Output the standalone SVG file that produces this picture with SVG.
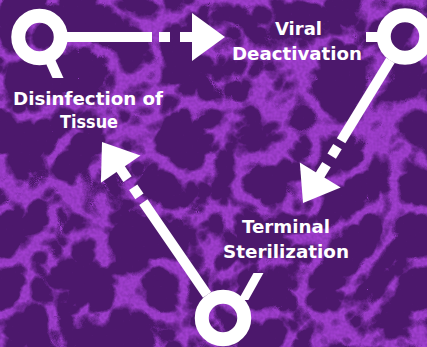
<svg xmlns="http://www.w3.org/2000/svg" width="427" height="347" viewBox="0 0 427 347">
<defs>
<style>
.ring{fill:none;stroke:#fff;stroke-width:14}
.ln{stroke:#fff;stroke-width:10;stroke-linecap:butt;fill:none}
.solid{fill:#fff}
.lbl{font-family:"DejaVu Sans","Noto Sans",sans-serif;font-weight:700;font-size:17px;fill:#fff;text-anchor:middle}
</style>
<filter id="cells" filterUnits="userSpaceOnUse" x="0" y="0" width="427" height="347" color-interpolation-filters="sRGB">
<feTurbulence type="turbulence" baseFrequency="0.019" numOctaves="3" seed="11" result="n"/>
<feColorMatrix in="n" type="matrix" values="0 0 0 0 0  0 0 0 0 0  0 0 0 0 0  -6 0 0 0 1.85" result="m"/>
<feTurbulence type="fractalNoise" baseFrequency="0.35" numOctaves="1" seed="3" result="g"/>
<feColorMatrix in="g" type="matrix" values="0 0 0 0 0  0 0 0 0 0  0 0 0 0 0  1.6 0 0 0 -0.2" result="gm"/>
<feComposite in="m" in2="gm" operator="arithmetic" k1="0" k2="1" k3="-0.3" k4="0.08" result="mm"/>
<feGaussianBlur in="mm" stdDeviation="0.7" result="mb"/>
<feFlood flood-color="#a13fd0" result="lite"/>
<feComposite in="lite" in2="mb" operator="in" result="veins"/>
<feFlood flood-color="#4c186c" result="dark"/>
<feMerge><feMergeNode in="dark"/><feMergeNode in="veins"/></feMerge>
</filter>
</defs>
<rect id="background" x="0" y="0" width="427" height="347" fill="#4c186c" filter="url(#cells)"/>

<g id="connectors">
  <g id="arrow-disinfection-viral">
    <line class="ln" x1="67" y1="37" x2="152" y2="37"/>
    <line class="ln" x1="159" y1="37" x2="170" y2="37"/>
    <line class="ln" x1="180" y1="37" x2="193" y2="37"/>
    <polygon class="solid" points="192,13 225,37 192,61"/>
  </g>
  <g id="arrow-viral-terminal">
    <line class="ln" x1="390.4" y1="60.4" x2="341.1" y2="140.75"/>
    <line class="ln" x1="337.5" y1="146.7" x2="331.7" y2="156.1"/>
    <line class="ln" x1="326.5" y1="164.6" x2="319.7" y2="175.7"/>
    <polygon class="solid" points="340.7,187.4 303,203 299.8,162.4"/>
  </g>
  <g id="arrow-terminal-disinfection">
    <line class="ln" x1="207.1" y1="294.9" x2="143.4" y2="202.2"/>
    <line class="ln" x1="139.4" y1="196.4" x2="133.2" y2="187.3"/>
    <line class="ln" x1="127.5" y1="179.1" x2="120.2" y2="168.4"/>
    <polygon class="solid" points="140.5,155.6 102,142 100.9,182.8"/>
  </g>
</g>

<g id="node-disinfection">
  <polygon class="solid" points="42.1,55 53.1,55 63.5,78 52.5,78"/>
  <circle class="ring" cx="39.5" cy="37" r="21.25"/>
  <text class="lbl" x="88" y="105" textLength="150" lengthAdjust="spacingAndGlyphs">Disinfection of</text>
  <text class="lbl" x="89" y="128" textLength="58" lengthAdjust="spacingAndGlyphs">Tissue</text>
</g>

<g id="node-viral">
  <rect class="solid" x="366" y="32" width="14" height="10"/>
  <circle class="ring" cx="405" cy="36.5" r="21.25"/>
  <text class="lbl" x="298.5" y="35" textLength="47" lengthAdjust="spacingAndGlyphs">Viral</text>
  <text class="lbl" x="297" y="60" textLength="130" lengthAdjust="spacingAndGlyphs">Deactivation</text>
</g>

<g id="node-terminal">
  <polygon class="solid" points="253.5,273 263.5,273 248.4,300 238.4,300"/>
  <circle class="ring" cx="223" cy="318" r="21.25"/>
  <text class="lbl" x="286" y="233" textLength="88" lengthAdjust="spacingAndGlyphs">Terminal</text>
  <text class="lbl" x="286" y="258" textLength="126" lengthAdjust="spacingAndGlyphs">Sterilization</text>
</g>
</svg>
